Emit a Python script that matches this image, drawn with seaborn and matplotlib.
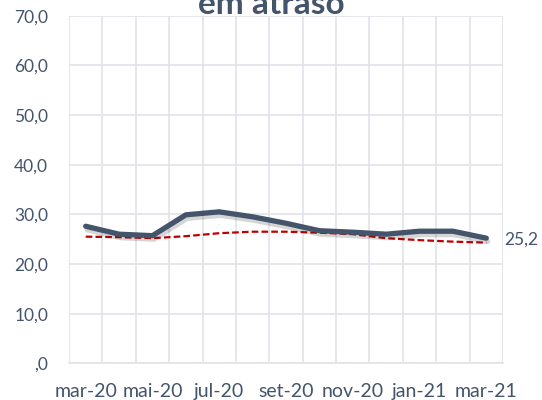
import matplotlib
matplotlib.use("Agg")
import matplotlib.pyplot as plt
import matplotlib.patheffects as pe
import numpy as np
import pandas as pd
import seaborn as sns

# months (mar-20 .. mar-21)
months = ["mar-20", "abr-20", "mai-20", "jun-20", "jul-20", "ago-20", "set-20",
          "out-20", "nov-20", "dez-20", "jan-21", "fev-21", "mar-21"]
# main series (%)
values = [27.6, 26.0, 25.7, 29.9, 30.5, 29.5, 28.2, 26.7, 26.4, 26.0, 26.6, 26.6, 25.2]
# trend (red dashed)
trend = [25.5, 25.4, 25.2, 25.6, 26.2, 26.5, 26.5, 26.3, 26.0, 25.2, 24.8, 24.5, 24.3]

df = pd.DataFrame({"pos": np.arange(len(months)), "mes": months,
                   "valor": values, "tendencia": trend})

sns.set_theme(style="white")
plt.rcParams["font.family"] = ["Lato", "DejaVu Sans"]

txt = "#44546A"
grid = "#E0E3E9"

fig = plt.figure(figsize=(5.42, 4.0), dpi=100)
ax = fig.add_axes([69 / 542, 1 - 363.3 / 400, (503 - 69) / 542, (363.3 - 15.7) / 400])

sns.lineplot(data=df, x="pos", y="tendencia", ax=ax, color="#C00000", lw=1.6,
             linestyle=(0, (3, 1.4)), zorder=3)
sns.lineplot(data=df, x="pos", y="valor", ax=ax, color="#44546A", lw=3.8,
             solid_capstyle="round", zorder=4,
             path_effects=[pe.SimpleLineShadow(offset=(1, -2.5), shadow_color="k", alpha=0.18),
                           pe.Normal()])

ax.set_xlim(-0.5, len(months) - 0.5)
ax.set_ylim(0, 70)
ax.set_yticks(np.arange(0, 71, 10))
ax.set_yticklabels([",0"] + ["{:.1f}".format(v).replace(".", ",") for v in range(10, 71, 10)])

# category boundaries carry the vertical grid, labels sit on every second month
bounds = np.arange(-0.5, len(months), 1.0)
ax.set_xticks(bounds)
ax.set_xticklabels([])
ax.set_xticks(df["pos"][::2], minor=True)
ax.set_xticklabels(months[::2], minor=True)
ax.tick_params(axis="x", which="major", length=5, width=1, color=grid, direction="out")
ax.tick_params(axis="x", which="minor", length=0, pad=14, labelsize=14, labelcolor=txt)
ax.tick_params(axis="y", length=0, pad=15, labelsize=12.5, labelcolor=txt)
for i, t in enumerate(ax.xaxis.get_major_ticks()):
    if i % 2 == 1 or i == len(bounds) - 1:
        t.tick1line.set_visible(False)

ax.grid(True, which="major", color=grid, lw=1.2)
ax.set_axisbelow(True)
for s in ax.spines.values():
    s.set_visible(False)
ax.spines["bottom"].set_visible(True)
ax.spines["bottom"].set_color(grid)
ax.spines["bottom"].set_linewidth(1.2)
ax.set_xlabel("")
ax.set_ylabel("")

# last value label
ax.annotate("25,2", xy=(df["pos"].iloc[-1], values[-1]), xytext=(13, -1),
            textcoords="offset points", va="center", ha="left",
            fontsize=12.5, color=txt, annotation_clip=False)

fig.text(0.5, 1 - 13.8 / 400, "em atraso", ha="center", va="baseline",
         fontsize=24, fontweight="bold", color=txt)

fig.savefig("out.png", dpi=100)
